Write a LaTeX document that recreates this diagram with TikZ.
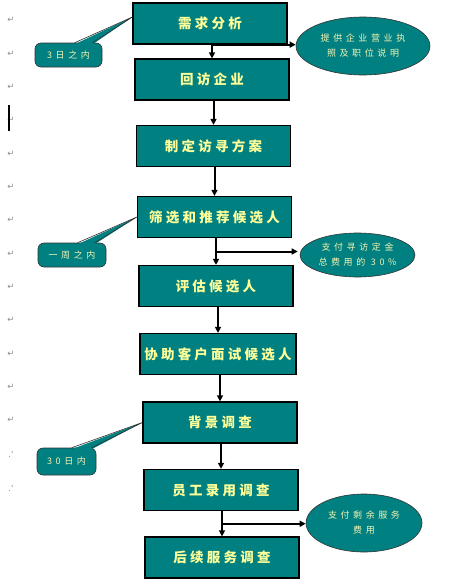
\documentclass[tikz,border=0pt]{standalone}
\usepackage{fontspec}
\usetikzlibrary{calc,arrows.meta,shapes.geometric}
\newfontfamily\boxfont[LetterSpace=24]{Noto Sans CJK SC}
\newfontfamily\smallfont[LetterSpace=40]{Noto Sans CJK SC}
\newfontfamily\markfont{DejaVu Sans}
\definecolor{boxteal}{HTML}{008080}
\definecolor{boxtext}{HTML}{FFFF99}
\definecolor{notetext}{HTML}{F4F4B4}
\definecolor{markgray}{HTML}{8C8C8C}

\begin{document}
\begin{tikzpicture}[x=1pt, y=-1pt,
  stepbox/.style={draw=black, line width=1.3pt, fill=boxteal, minimum width=154pt, minimum height=41pt, inner sep=0pt, text=boxtext, font=\boxfont\bfseries\fontsize{13.5}{16}\selectfont},
  note/.style={ellipse, draw=black!80, line width=0.6pt, fill=boxteal, inner sep=0pt, text=notetext, align=center, font=\smallfont\fontsize{9}{15}\selectfont},
  tag/.style={draw=black!80, line width=0.6pt, fill=boxteal, rounded corners=6pt, inner sep=0pt, text=notetext, font=\smallfont\fontsize{9}{10}\selectfont},
  pmark/.style={text=markgray, inner sep=0pt, font=\markfont\fontsize{8.5}{9}\selectfont},
  arr/.style={-{Triangle[length=6pt,width=6pt]}, line width=2pt},
]
  \useasboundingbox (0,0) rectangle (464,587);

  % paragraph marks in the margin
  \foreach \i in {0,...,12}
    \node[pmark] (pm\i) at (11, 20+33.35*\i) {↵};
  \node[pmark] (pm13) at (11, 454) {.'};
  \node[pmark] (pm14) at (11, 488) {.'};
  \draw[line width=1.3pt] (9, 105) -- (9, 131);

  % main steps
  \node[stepbox] (b1) at (210, 23.5) {需求分析};
  \node[stepbox] (b2) at (212, 79.5) {回访企业};
  \node[stepbox] (b3) at (213.5, 146) {制定访寻方案};
  \node[stepbox] (b4) at (214.5, 217) {筛选和推荐候选人};
  \node[stepbox] (b5) at (216, 286) {评估候选人};
  \node[stepbox, minimum width=156pt] (b6) at (218, 354) {协助客户面试候选人};
  \node[stepbox] (b7) at (220, 422.5) {背景调查};
  \node[stepbox] (b8) at (221, 490) {员工录用调查};
  \node[stepbox] (b9) at (222, 557.5) {后续服务调查};

  \foreach \a/\b in {b1/b2, b2/b3, b3/b4, b4/b5, b5/b6, b6/b7, b7/b8, b8/b9}
    \draw[arr] (\a.south -| \b.north) -- (\b.north);

  % payment notes
  \node[note, minimum width=134pt, minimum height=58pt] (e1) at (363, 46) {提供企业营业执\\照及职位说明};
  \node[note, minimum width=115pt, minimum height=44pt] (e2) at (357.5, 255) {支付寻访定金\\总费用的 30\%};
  \node[note, minimum width=116pt, minimum height=58pt] (e3) at (364, 523) {支付剩余服务\\费用};

  \coordinate (br1) at (b1.south -| b2.north);
  \coordinate (br2) at ($(b4.south -| b5.north)!0.5!(b5.north)$);
  \coordinate (br3) at ($(b8.south -| b9.north)!0.5!(b9.north)$);
  \draw[arr] (br1) -- (br1 -| e1.west);
  \draw[arr] (br2) -- ($(br2 -| e2.west)+(-2,0)$);
  \draw[arr] (br3) -- (br3 -| e3.west);

  % time callouts
  \node[tag, minimum width=67pt, minimum height=24pt] (c1) at (68.5, 55) {3日之内};
  \node[tag, minimum width=68pt, minimum height=24pt] (c2) at (72, 255) {一周之内};
  \node[tag, minimum width=59pt, minimum height=27pt] (c3) at (66.5, 461.5) {30日内};

  \foreach \c/\t/\s/\p/\q in {c1/b1/-6.5/40/58, c2/b4/0/40/57, c3/b7/0/35/55} {
    \coordinate (\c tip) at ($(\t.west)+(0,\s)$);
    \fill[boxteal] ($(\c.north west)+(\p,1.5)$) -- (\c tip) -- ($(\c.north west)+(\q,1.5)$) -- cycle;
    \draw[black!80, line width=0.6pt] ($(\c.north west)+(\p,0)$) -- (\c tip) -- ($(\c.north west)+(\q,0)$);
  }
\end{tikzpicture}
\end{document}
